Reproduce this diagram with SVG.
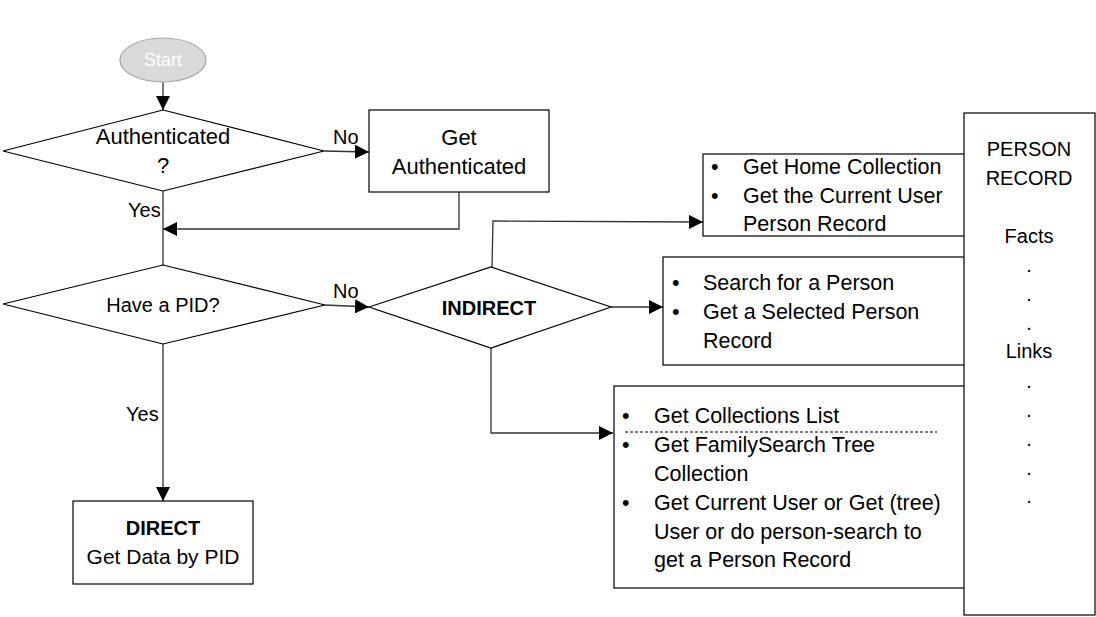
<svg xmlns="http://www.w3.org/2000/svg" width="1096" height="617" viewBox="0 0 1096 617">
<defs>
<marker id="arr" markerUnits="userSpaceOnUse" markerWidth="15" markerHeight="14" refX="14" refY="7" orient="auto">
<path d="M0,0 L14,7 L0,14 Z" fill="#000"/>
</marker>
<style>
text{font-family:"Liberation Sans",Arial,sans-serif;fill:#000}
.shape{fill:#fff;stroke:#000;stroke-width:1.2}
.conn{fill:none;stroke:#333;stroke-width:1.3}
.lbl{font-size:20px}
.box{font-size:21.5px}
.pr{font-size:20px;text-anchor:middle}
.c{text-anchor:middle}
.b{font-weight:bold}
</style>
</defs>
<rect width="1096" height="617" fill="#fff"/>
<g id="connectors">
<path class="conn" d="M163,82 L163,110" marker-end="url(#arr)"/>
<path class="conn" d="M324,151 L369,152" marker-end="url(#arr)"/>
<path class="conn" d="M459,192 L459,229 L163,229" marker-end="url(#arr)"/>
<path class="conn" d="M163,191 L163,265"/>
<path class="conn" d="M325,305 L369,307" marker-end="url(#arr)"/>
<path class="conn" d="M163,344 L163,501" marker-end="url(#arr)"/>
<path class="conn" d="M492,267 L493,221 L703,222" marker-end="url(#arr)"/>
<path class="conn" d="M611,307 L663,307" marker-end="url(#arr)"/>
<path class="conn" d="M491,348 L491,433 L613,433" marker-end="url(#arr)"/>
<text class="lbl" x="333" y="144">No</text>
<text class="lbl" x="128" y="217">Yes</text>
<text class="lbl" x="333" y="298">No</text>
<text class="lbl" x="126" y="421">Yes</text>
</g>
<g id="start">
<ellipse cx="163" cy="60" rx="43" ry="22" fill="#d9d9d9" stroke="#a6a6a6" stroke-width="1.2"/>
<text x="163" y="66" class="c" style="font-size:18px;fill:#fff">Start</text>
</g>
<g id="authenticated">
<polygon class="shape" points="163,110 324,151 163,191 3,151"/>
<text x="163" y="144" class="c" style="font-size:22px">Authenticated</text>
<text x="163" y="173" class="c" style="font-size:22px">?</text>
</g>
<g id="get-authenticated">
<rect class="shape" x="369" y="110" width="180" height="82"/>
<text x="459" y="145" class="c" style="font-size:22px">Get</text>
<text x="459" y="174" class="c" style="font-size:22px">Authenticated</text>
</g>
<g id="have-pid">
<polygon class="shape" points="163,265 325,305 163,344 3,304"/>
<text x="163" y="312" class="c" style="font-size:20px">Have a PID?</text>
</g>
<g id="indirect">
<polygon class="shape" points="369,307 491,267 611,307 491,348"/>
<text x="489" y="315" class="c b" style="font-size:20px">INDIRECT</text>
</g>
<g id="direct">
<rect class="shape" x="73" y="501" width="180" height="83"/>
<text x="163" y="535" class="c b" style="font-size:20px">DIRECT</text>
<text x="163" y="564" class="c" style="font-size:21px">Get Data by PID</text>
</g>
<g id="home-collection">
<rect class="shape" x="703" y="154" width="262" height="82"/>
<text class="box" x="711" y="174">•</text>
<text class="box" x="743" y="174">Get Home Collection</text>
<text class="box" x="711" y="203">•</text>
<text class="box" x="743" y="203">Get the Current User</text>
<text class="box" x="743" y="231">Person Record</text>
</g>
<g id="search-person">
<rect class="shape" x="663" y="257" width="302" height="108"/>
<text class="box" x="672" y="290">•</text>
<text class="box" x="703" y="290">Search for a Person</text>
<text class="box" x="672" y="319">•</text>
<text class="box" x="703" y="319">Get a Selected Person</text>
<text class="box" x="703" y="348">Record</text>
</g>
<g id="collections">
<rect class="shape" x="614" y="386" width="351" height="202"/>
<text class="box" x="622" y="423">•</text>
<text class="box" x="654" y="423">Get Collections List</text>
<line x1="625" y1="432" x2="937" y2="432" stroke="#000" stroke-width="1.2" stroke-dasharray="3,2"/>
<text class="box" x="622" y="452">•</text>
<text class="box" x="654" y="452">Get FamilySearch Tree</text>
<text class="box" x="654" y="481">Collection</text>
<text class="box" x="622" y="510">•</text>
<text class="box" x="654" y="510">Get Current User or Get (tree)</text>
<text class="box" x="654" y="539">User or do person-search to</text>
<text class="box" x="654" y="567">get a Person Record</text>
</g>
<g id="person-record">
<rect class="shape" x="964" y="113" width="131" height="502"/>
<text class="pr" x="1029" y="156">PERSON</text>
<text class="pr" x="1029" y="185">RECORD</text>
<text class="pr" x="1029" y="243">Facts</text>
<text class="pr" x="1029" y="272">.</text>
<text class="pr" x="1029" y="301">.</text>
<text class="pr" x="1029" y="330">.</text>
<text class="pr" x="1029" y="358">Links</text>
<text class="pr" x="1029" y="388">.</text>
<text class="pr" x="1029" y="417">.</text>
<text class="pr" x="1029" y="446">.</text>
<text class="pr" x="1029" y="475">.</text>
<text class="pr" x="1029" y="503">.</text>
</g>
</svg>
